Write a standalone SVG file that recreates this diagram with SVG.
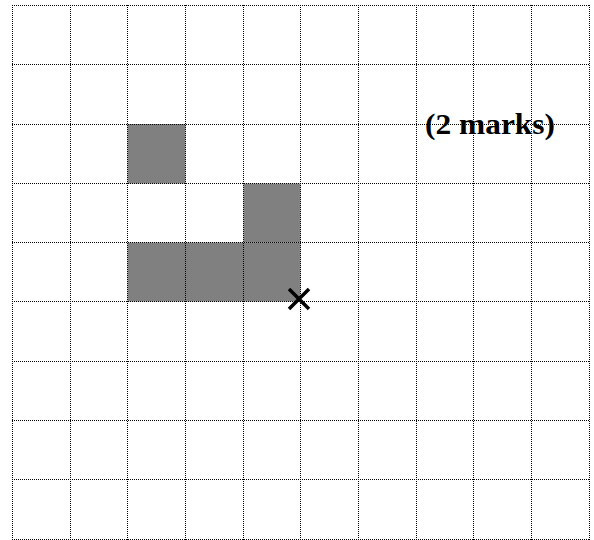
<svg xmlns="http://www.w3.org/2000/svg" width="594" height="540" viewBox="0 0 594 540">
<style>
.g{stroke:#000;stroke-width:1;stroke-dasharray:1 1;fill:none}
.s{fill:#808080}
.t{font-family:"Liberation Serif","Times New Roman",serif;font-weight:bold;font-size:30px;fill:#000}
</style>
<rect x="0" y="0" width="594" height="540" fill="#fff"/>
<g id="shaded">
<rect class="s" x="127.5" y="124" width="58" height="59.5"/>
<rect class="s" x="243.5" y="183.5" width="57" height="59"/>
<rect class="s" x="127.5" y="242.5" width="173" height="59"/>
</g>
<g id="grid">
<path class="g" d="M12.5 5V540M70.5 5V540M127.5 5V540M185.5 5V540M243.5 5V540M300.5 5V540M358.5 5V540M416.5 5V540M473.5 5V540M531.5 5V540M589.5 5V540"/>
<path class="g" d="M12 5.5H590M12 64.5H590M12 124.5H590M12 183.5H590M12 242.5H590M12 301.5H590M12 361.5H590M12 420.5H590M12 479.5H590M12 539.5H590"/>
</g>
<g id="cross" stroke="#000" stroke-width="3.5">
<path d="M289 289L309 309M309 289L289 309"/>
</g>
<text class="t" x="425" y="134" textLength="130" lengthAdjust="spacingAndGlyphs">(2 marks)</text>
</svg>
